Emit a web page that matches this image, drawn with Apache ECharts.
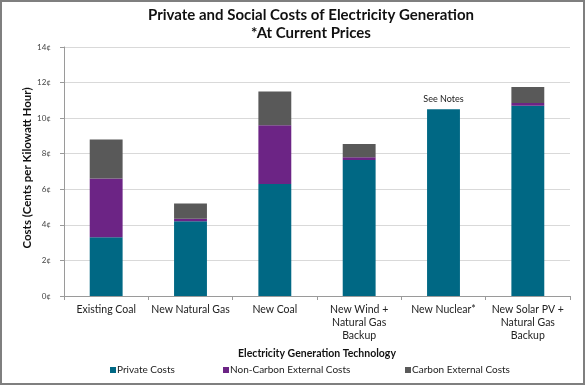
<!DOCTYPE html>
<html><head><meta charset="utf-8">
<script src="https://cdn.jsdelivr.net/npm/echarts@6/dist/echarts.min.js"></script>
<style>
html,body{margin:0;padding:0;background:#fff;}
#c{width:585px;height:385px;box-sizing:border-box;border:2px solid #7f7f7f;}
</style></head><body>
<div id="c"></div>
<script>
var categories = ["Existing Coal","New Natural Gas","New Coal","New Wind +\nNatural Gas\nBackup","New Nuclear*","New Solar PV +\nNatural Gas\nBackup"];
var privateCosts = [3.3, 4.2, 6.3, 7.65, 10.5, 10.7];
var nonCarbonCosts = [3.3, 0.15, 3.3, 0.15, 0, 0.15];
var carbonCosts = [2.2, 0.85, 1.9, 0.75, 0, 0.9];
var yTicks = [0,2,4,6,8,10,12,14];
var noteIndex = 4, noteText = "See Notes";

var font = "Lato,'Liberation Sans',Arial,sans-serif";
var chart = echarts.init(document.getElementById('c'), null, {renderer:'canvas'});
var privData = privateCosts.map(function(v,i){
  if(i===noteIndex) return {value:v,label:{show:true,position:'top',distance:6,formatter:noteText,color:'#222',fontSize:9,fontFamily:font}};
  return v;
});
function leg(name,left){
  return {data:[name],left:left,top:358,itemWidth:6,itemHeight:6,icon:'rect',
    textStyle:{fontSize:10,color:'#222',fontFamily:font,padding:[0,0,0,-4]},selectedMode:false};
}
chart.setOption({
  animation:false,
  textStyle:{fontFamily:font},
  title:{text:"Private and Social Costs of Electricity Generation\n*At Current Prices",left:304,textAlign:'center',top:-1,
    textStyle:{fontSize:15,fontWeight:'bold',color:'#111',lineHeight:18,fontFamily:font}},
  legend:[leg('Private Costs',103),leg('Non-Carbon External Costs',216),leg('Carbon External Costs',398)],
  grid:{left:62,right:13,top:45,bottom:87},
  graphic:[{type:'text',x:25,y:166,rotation:Math.PI/2,
    style:{text:'Costs (Cents per Kilowatt Hour)',font:'bold 11.5px '+font,fill:'#111',textAlign:'center',textVerticalAlign:'middle'}}],
  xAxis:{type:'category',data:categories,
    axisLine:{lineStyle:{color:'#9a9a9a'}},
    axisTick:{show:true,length:4,lineStyle:{color:'#9a9a9a'}},
    axisLabel:{fontSize:10.5,color:'#222',lineHeight:13,margin:7,interval:0,fontFamily:font},
    name:'Electricity Generation Technology',nameLocation:'middle',nameGap:52,
    nameTextStyle:{fontSize:10.5,fontWeight:'bold',color:'#111',fontFamily:font}},
  yAxis:{type:'value',min:0,max:14,interval:2,
    axisLine:{show:true,lineStyle:{color:'#9a9a9a'}},
    axisTick:{show:true,length:4,lineStyle:{color:'#9a9a9a'}},
    splitLine:{lineStyle:{color:'#d9d9d9'}},
    axisLabel:{fontSize:8,color:'#444',margin:13,formatter:function(v){return yTicks.indexOf(v)>=0? v+'¢':'';}}},
  series:[
    {name:'Private Costs',type:'bar',stack:'s',data:privData,barWidth:'39%',itemStyle:{color:'#006884'}},
    {name:'Non-Carbon External Costs',type:'bar',stack:'s',data:nonCarbonCosts,itemStyle:{color:'#6c2485'}},
    {name:'Carbon External Costs',type:'bar',stack:'s',data:carbonCosts,itemStyle:{color:'#595959'}}
  ]
});
</script>
</body></html>
